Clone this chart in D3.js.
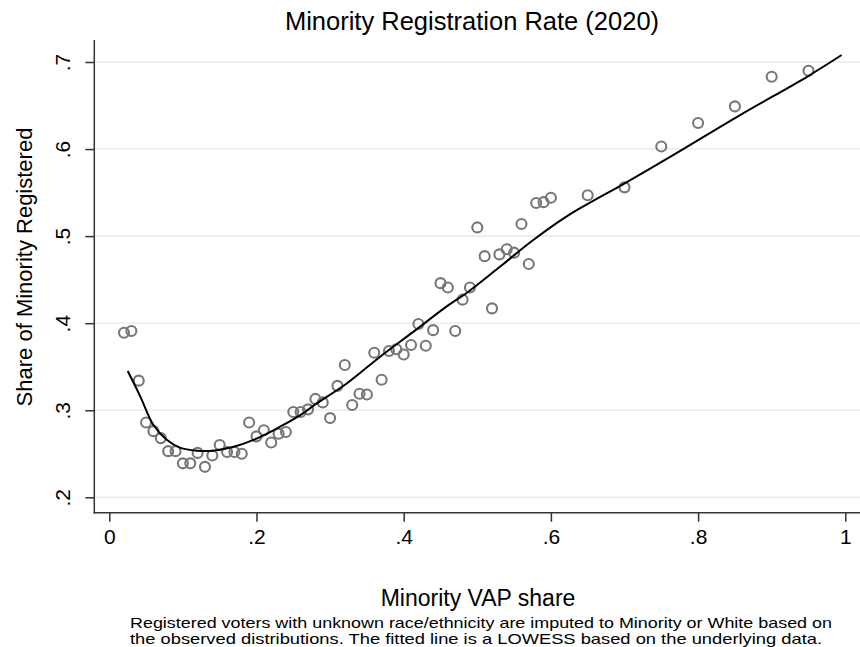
<!DOCTYPE html>
<html>
<head>
<meta charset="utf-8">
<script src="https://cdn.jsdelivr.net/npm/d3@7"></script>
<style>
  html, body { margin: 0; padding: 0; background: #ffffff; }
  svg { display: block; font-family: "Liberation Sans", Arial, sans-serif; }
</style>
</head>
<body>
<svg id="chart" width="860" height="647"></svg>
<script>
// ---- data ----
const titleText = "Minority Registration Rate (2020)";
const xTitle = "Minority VAP share";
const yTitle = "Share of Minority Registered";
const noteLines = [
  "Registered voters with unknown race/ethnicity are imputed to Minority or White based on",
  "the observed distributions. The fitted line is a LOWESS based on the underlying data."
];
const xTicks = [0, 0.2, 0.4, 0.6, 0.8, 1];
const xTickLabels = ["0", ".2", ".4", ".6", ".8", "1"];
const yTicks = [0.2, 0.3, 0.4, 0.5, 0.6, 0.7];
const yTickLabels = [".2", ".3", ".4", ".5", ".6", ".7"];

// scatter: minority VAP share (x) and share registered (y)
const pointX = [0.02,0.03,0.04,0.05,0.06,0.07,0.08,0.09,0.10,0.11,0.12,0.13,0.14,0.15,0.16,0.17,0.18,0.19,0.20,
  0.21,0.22,0.23,0.24,0.25,0.26,0.27,0.28,0.29,0.30,0.31,0.32,0.33,0.34,0.35,0.36,0.37,0.38,0.39,0.40,
  0.41,0.42,0.43,0.44,0.45,0.46,0.47,0.48,0.49,0.50,0.51,0.52,0.53,0.54,0.55,0.56,0.57,0.58,0.59,0.60,
  0.65,0.70,0.75,0.80,0.85,0.90,0.95];
const pointY = [0.389,0.391,0.334,0.286,0.276,0.268,0.253,0.253,0.239,0.239,0.251,0.235,0.248,0.260,0.252,0.252,0.250,0.286,0.270,
  0.277,0.263,0.273,0.275,0.298,0.298,0.301,0.313,0.309,0.291,0.328,0.352,0.306,0.319,0.318,0.366,0.335,0.368,0.370,0.364,
  0.375,0.399,0.374,0.392,0.446,0.441,0.391,0.427,0.441,0.510,0.477,0.417,0.479,0.485,0.481,0.514,0.468,0.538,0.539,0.544,
  0.547,0.556,0.603,0.630,0.649,0.683,0.690];

// LOWESS fitted line
const fitX = [0.025,0.042,0.060,0.078,0.096,0.119,0.141,0.169,0.196,0.223,0.259,0.277,0.323,0.368,0.413,0.458,0.486,0.531,0.576,0.622,0.667,0.698,0.766,0.857,0.948,0.995];
const fitY = [0.345,0.316,0.283,0.266,0.257,0.2535,0.2535,0.258,0.266,0.277,0.294,0.305,0.331,0.3615,0.390,0.419,0.435,0.465,0.4955,0.523,0.545,0.5595,0.593,0.639,0.683,0.708];

// ---- layout ----
const svg = d3.select("#chart");
const x = d3.scaleLinear().domain([0, 1]).range([109.3, 845.3]);
const y = d3.scaleLinear().domain([0.2, 0.7]).range([497.3, 62]);
const axisX0 = 94.3, axisY0 = 512.7, plotTop = 40, plotRight = 860;

// gridlines
svg.append("g").selectAll("line").data(yTicks).join("line")
  .attr("x1", axisX0 + 1).attr("x2", plotRight)
  .attr("y1", d => y(d)).attr("y2", d => y(d))
  .attr("stroke", "#ebebeb").attr("stroke-width", 1.6);

// y axis
const yAxis = d3.axisLeft(y).tickValues(yTicks).tickSize(9).tickFormat((d, i) => yTickLabels[i]);
const gy = svg.append("g").attr("transform", `translate(${axisX0},0)`).call(yAxis);
gy.select(".domain").remove();
gy.selectAll(".tick line").attr("stroke", "#333").attr("stroke-width", 1.5);
gy.selectAll(".tick text")
  .attr("font-size", 21).attr("fill", "#000")
  .attr("x", 0).attr("dy", null)
  .attr("transform", "translate(-24,0) rotate(-90)")
  .attr("text-anchor", "middle")
  .attr("y", 0);

// x axis
const xAxis = d3.axisBottom(x).tickValues(xTicks).tickSize(9).tickFormat((d, i) => xTickLabels[i]);
const gx = svg.append("g").attr("transform", `translate(0,${axisY0})`).call(xAxis);
gx.select(".domain").remove();
gx.selectAll(".tick line").attr("stroke", "#333").attr("stroke-width", 1.5);
gx.selectAll(".tick text").attr("font-size", 21).attr("fill", "#000").attr("y", 31).attr("dy", null);

// axis lines
svg.append("line").attr("x1", axisX0).attr("x2", axisX0).attr("y1", plotTop).attr("y2", axisY0 + 0.75)
  .attr("stroke", "#333").attr("stroke-width", 1.5);
svg.append("line").attr("x1", axisX0 - 0.75).attr("x2", plotRight).attr("y1", axisY0).attr("y2", axisY0)
  .attr("stroke", "#333").attr("stroke-width", 1.5);

// points
const pts = pointX.map((v, i) => ({x: v, y: pointY[i]}));
svg.append("g").selectAll("circle").data(pts).join("circle")
  .attr("cx", d => x(d.x)).attr("cy", d => y(d.y)).attr("r", 5)
  .attr("fill", "none").attr("stroke", "#777777").attr("stroke-width", 2.1);

// fitted line
const fit = fitX.map((v, i) => [v, fitY[i]]);
svg.append("path").datum(fit)
  .attr("d", d3.line().x(d => x(d[0])).y(d => y(d[1])).curve(d3.curveCatmullRom.alpha(0.5)))
  .attr("fill", "none").attr("stroke", "#000").attr("stroke-width", 2);

// titles
svg.append("text").attr("x", 472).attr("y", 30).attr("text-anchor", "middle")
  .attr("font-size", 25.5).attr("fill", "#000").text(titleText);
svg.append("text").attr("transform", "translate(32,267) rotate(-90)").attr("text-anchor", "middle")
  .attr("font-size", 22).attr("fill", "#000").text(yTitle);
svg.append("text").attr("x", 478).attr("y", 606).attr("text-anchor", "middle")
  .attr("font-size", 23).attr("fill", "#000").text(xTitle);
const noteWidths = [702, 692];
svg.append("g").selectAll("text").data(noteLines).join("text")
  .attr("x", 130).attr("y", (d, i) => 628 + i * 16)
  .attr("font-size", 14.5).attr("fill", "#000")
  .attr("textLength", (d, i) => noteWidths[i]).attr("lengthAdjust", "spacingAndGlyphs")
  .text(d => d);
</script>
</body>
</html>
